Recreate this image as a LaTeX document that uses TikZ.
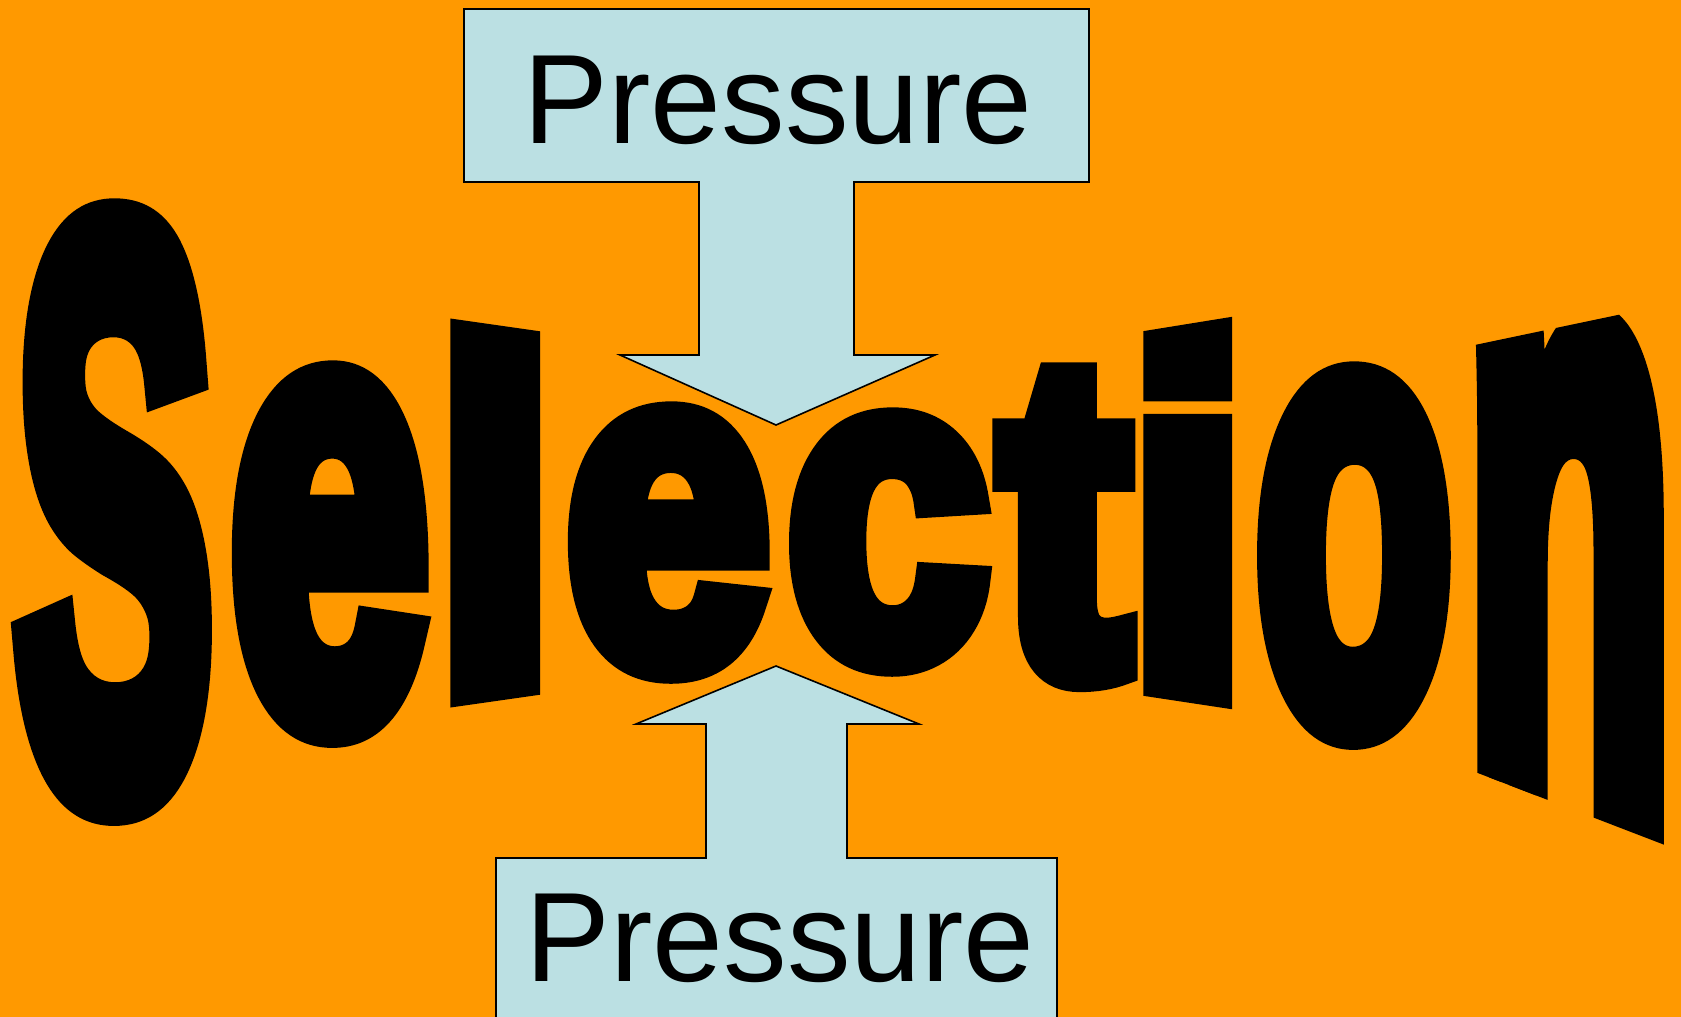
\documentclass[tikz,border=0pt]{standalone}
\usepackage{fontspec}
\usepackage{graphicx}
\setmainfont{Liberation Sans}
\newfontfamily\wordfont{Liberation Sans}[UprightFont=* Bold, FakeBold=7]
\definecolor{wordorange}{HTML}{FF9900}
\definecolor{calloutblue}{HTML}{BBE0E3}
\newdimen\pxu
\pxu=0.5pt
% half of the fake-bold stroke
\def\fbw{.035em}
% one glyph, side bearings trimmed (in em), box grown by the stroke
\newcommand\wglyph[3]{\raisebox{0pt}[\dimexpr\height+\fbw\relax][\dimexpr\depth+\fbw\relax]{%
  \kern\dimexpr-#2em+\fbw\relax#1\kern\dimexpr-#3em+\fbw\relax}}

\begin{document}
\begin{tikzpicture}[
  x=0.5pt, y=-0.5pt,
  wordart/.style={inner sep=0pt, anchor=north west, font=\wordfont},
  callout/.style={draw=black, line width=0.8pt, fill=calloutblue, line join=miter},
  tag/.style={inner sep=0pt, anchor=base, font=\fontsize{63.6}{70}\selectfont}
]
  \fill[wordorange] (0,0) rectangle (1681,1017);
  \useasboundingbox (0,0) rectangle (1681,1017);

  % the word
  \node[wordart] (S)  at (16,198)   {\resizebox*{195\pxu}{625\pxu}{\wglyph{S}{.04}{.04}}};
  \node[wordart] (e1) at (230,360)  {\resizebox*{196\pxu}{387\pxu}{\wglyph{e}{.035}{.04}}};
  \begin{scope}
    \clip (440,317) -- (545,332) -- (545,694) -- (440,709) -- cycle;
    \node[wordart] (l)  at (450,317)  {\resizebox*{90\pxu}{392\pxu}{\wglyph{l}{.07}{.07}}};
  \end{scope}
  \node[wordart] (e2) at (566,401)  {\resizebox*{201\pxu}{282\pxu}{\wglyph{e}{.035}{.04}}};
  \node[wordart] (c)  at (789,407)  {\resizebox*{197\pxu}{269\pxu}{\wglyph{c}{.04}{.04}}};
  \node[wordart] (t)  at (995,362)  {\resizebox*{135\pxu}{329\pxu}{\wglyph{t}{.02}{.03}}};
  \begin{scope}
    \clip (1138,332) -- (1237,316) -- (1237,710) -- (1138,695) -- cycle;
    \node[wordart] (i)  at (1143,316) {\resizebox*{89\pxu}{394\pxu}{\wglyph{i}{.07}{.07}}};
  \end{scope}
  \node[wordart] (o)  at (1257,361) {\resizebox*{193\pxu}{388\pxu}{\wglyph{o}{.04}{.04}}};
  \begin{scope}
    \clip (1470,346) -- (1670,304) -- (1670,847) -- (1470,770) -- cycle;
    \node[wordart] (n)  at (1477,304) {\resizebox*{187\pxu}{541\pxu}{\wglyph{n}{.07}{.06}}};
  \end{scope}

  % callouts
  \draw[callout] (464,9) -- (1089,9) -- (1089,182) -- (854,182) -- (854,355)
    -- (935,355) -- (776,425) -- (620,355) -- (699,355) -- (699,182)
    -- (464,182) -- cycle;
  \draw[callout] (496,1030) -- (496,858) -- (706,858) -- (706,724) -- (636,724)
    -- (776,666) -- (919,724) -- (847,724) -- (847,858) -- (1057,858)
    -- (1057,1030) -- cycle;
  \node[tag] (top) at (778,143) {Pressure};
  \node[tag] (bot) at (780,981) {Pressure};
\end{tikzpicture}
\end{document}
